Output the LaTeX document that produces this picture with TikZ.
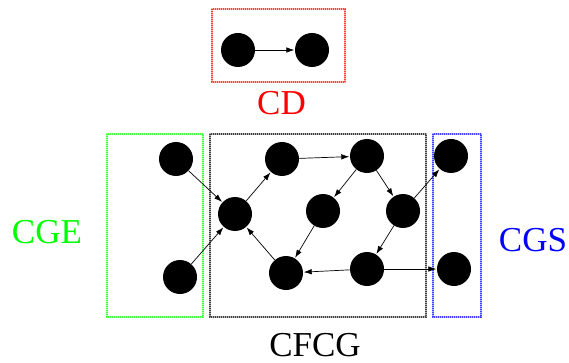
\documentclass[tikz,border=0pt]{standalone}
\usepackage{fontspec}
\setmainfont{Liberation Serif}
\usetikzlibrary{arrows.meta}
\begin{document}
\begin{tikzpicture}[x=1pt,y=-1pt,
  dot/.style={circle,fill=black,inner sep=0pt,minimum size=34pt},
  edge/.style={-{Latex[length=8pt,width=5.5pt]},line width=0.7pt,shorten >=0.5pt},
  grpbg/.style={line width=2pt,draw=#1!30},
  grp/.style={line width=2pt,draw=#1!75,dash pattern=on 1pt off 1pt},
  lbl/.style={inner sep=0pt,anchor=base,font=\fontsize{35}{40}\selectfont}]
\useasboundingbox (0,0) rectangle (569,363);
% group boxes
\foreach \c/\xa/\ya/\xb/\yb in {red/212/9/345/82, green/107/134/203/317, black/210/134/426/317, blue/433/134/481/317}{
  \draw[grpbg=\c] (\xa,\ya) rectangle (\xb,\yb);
  \draw[grp=\c] (\xa,\ya) rectangle (\xb,\yb);
}
% nodes
\node[dot] (cd1) at (238,50) {};
\node[dot] (cd2) at (312,50) {};
\node[dot] (a1) at (176,159) {};
\node[dot] (a2) at (180,277) {};
\node[dot] (b) at (235,214) {};
\node[dot] (c) at (282,159) {};
\node[dot] (d) at (367,156) {};
\node[dot] (e) at (323,211) {};
\node[dot] (f) at (403,211) {};
\node[dot] (g) at (286,273) {};
\node[dot] (h) at (367,269) {};
\node[dot] (s1) at (451,156) {};
\node[dot] (s2) at (454,269) {};
% edges
\draw[edge] (cd1) -- (cd2);
\draw[edge] (a1) -- (b);
\draw[edge] (a2) -- (b);
\draw[edge] (b) -- (c);
\draw[edge] (c) -- (d);
\draw[edge] (d) -- (e);
\draw[edge] (d) -- (f);
\draw[edge] (e) -- (g);
\draw[edge] (f) -- (h);
\draw[edge] (h) -- (g);
\draw[edge] (g) -- (b);
\draw[edge] (f) -- (s1);
\draw[edge] (h) -- (s2);
% labels
\node[lbl,text=red] (lcd) at (281.5,115) {CD};
\node[lbl,text=green] (lcge) at (47,243) {CGE};
\node[lbl,text=black] (lcfcg) at (315,356) {CFCG};
\node[lbl,text=blue] (lcgs) at (533,251) {CGS};
\end{tikzpicture}
\end{document}
